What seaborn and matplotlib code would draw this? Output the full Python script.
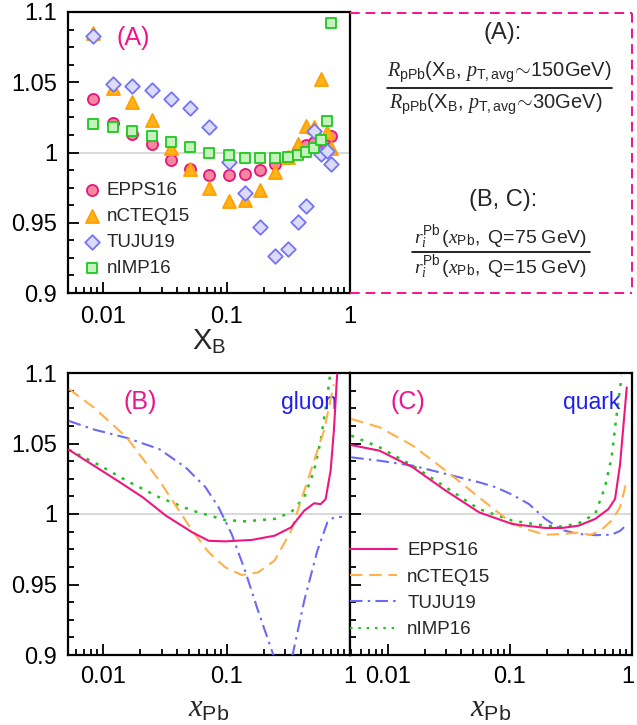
import numpy as np
import pandas as pd
import matplotlib
matplotlib.use("Agg")
import matplotlib.pyplot as plt
import matplotlib.transforms as mtransforms
from matplotlib.lines import Line2D
from matplotlib.ticker import MultipleLocator, LogLocator, NullFormatter, FixedLocator, FixedFormatter
import seaborn as sns

sns.set_style("ticks")
plt.rcParams['font.family'] = ['Liberation Sans', 'DejaVu Sans']
plt.rcParams['mathtext.fontset'] = 'custom'
plt.rcParams['mathtext.rm'] = 'Liberation Sans'
plt.rcParams['mathtext.it'] = 'Liberation Serif:italic'
plt.rcParams['mathtext.bf'] = 'Liberation Sans:bold'

# ---------------- Panel A data (R ratio vs X_B) ----------------
xB = [0.00836, 0.0120, 0.0173, 0.0248, 0.0355, 0.0509, 0.0727, 0.104, 0.140,
      0.186, 0.248, 0.313, 0.382, 0.439, 0.513, 0.578, 0.646, 0.705]
A_EPPS16 = [1.038, 1.021, 1.0135, 1.0057, 0.995, 0.988, 0.984, 0.9838, 0.985,
            0.9876, 0.992, 0.996, 1.002, 1.005, 1.0076, 1.009, 1.010, 1.0114]
A_nCTEQ15 = [1.085, 1.046, 1.0356, 1.023, 1.003, 0.9886, 0.9744, 0.9653, 0.966,
             0.9734, 0.9858, 0.997, 1.0062, 1.019, 1.0185, 1.052, 1.0147, 1.003]
A_TUJU19 = [1.0826, 1.0484, 1.047, 1.0443, 1.038, 1.0318, 1.018, 0.993, 0.9715,
            0.947, 0.926, 0.931, 0.9506, 0.962, 1.0154, 0.9988, 1.001, 0.992]
A_nIMP16 = [1.0206, 1.0185, 1.0154, 1.0118, 1.0076, 1.004, 1.000, 0.9979, 0.9964,
            0.9964, 0.9964, 0.997, 0.9982, 1.0002, 1.003, 1.009, 1.0225, 1.0925]

# ---------------- Panel B data (gluon) ----------------
B_EPPS16_x = [0.00528, 0.0137, 0.021, 0.0323, 0.0528, 0.0718, 0.0976, 0.16, 0.245,
              0.333, 0.426, 0.512, 0.579, 0.635, 0.697, 0.74, 0.787]
B_EPPS16_y = [1.0456, 1.0225, 1.0118, 0.9988, 0.987, 0.981, 0.9806, 0.9816, 0.9846,
              0.9905, 1.0024, 1.0076, 1.007, 1.0106, 1.031, 1.059, 1.099]
B_nCTEQ15_x = [0.00528, 0.00838, 0.0155, 0.0286, 0.0528, 0.0718, 0.0976, 0.133, 0.180,
               0.245, 0.333, 0.453, 0.615, 0.74]
B_nCTEQ15_y = [1.0887, 1.0757, 1.0544, 1.0236, 0.9882, 0.9728, 0.9622, 0.9567, 0.9586,
               0.967, 0.988, 1.0236, 1.059, 1.092]
B_TUJU19_x = [0.00528, 0.00838, 0.0155, 0.0286, 0.0467, 0.0675, 0.0863, 0.110, 0.141,
              0.180, 0.238, 0.28, 0.344, 0.426, 0.544, 0.655, 0.74, 0.863]
B_TUJU19_y = [1.066, 1.060, 1.054, 1.046, 1.033, 1.019, 1.0047, 0.9858, 0.960,
              0.9314, 0.9007, 0.885, 0.9007, 0.9385, 0.974, 0.994, 0.9976, 0.998]
B_nIMP16_x = [0.00528, 0.00947, 0.0155, 0.0286, 0.0528, 0.0976, 0.141, 0.245, 0.333,
              0.426, 0.512, 0.579, 0.655, 0.69]
B_nIMP16_y = [1.0456, 1.0343, 1.0236, 1.0118, 1.0024, 0.9957, 0.9948, 0.9965, 1.0012,
              1.0118, 1.031, 1.052, 1.083, 1.099]

# ---------------- Panel C data (quark) ----------------
C_x = [0.00502, 0.00855, 0.016, 0.0299, 0.0559, 0.1045, 0.195, 0.267, 0.365, 0.499,
       0.641, 0.726, 0.798, 0.906]
C_EPPS16_y = [1.0489, 1.0449, 1.0331, 1.0165, 1.0012, 0.9929, 0.9901, 0.9901, 0.9917,
              0.9965, 1.0035, 1.0106, 1.035, 1.0898]
C_nCTEQ15_x = [0.00502, 0.00855, 0.016, 0.0299, 0.0559, 0.0765, 0.1045, 0.143, 0.195,
               0.267, 0.365, 0.455, 0.56, 0.68, 0.798, 0.906]
C_nCTEQ15_y = [1.0674, 1.0615, 1.0485, 1.0307, 1.0118, 1.0024, 0.9934, 0.9887, 0.9853,
               0.9858, 0.9868, 0.985, 0.9887, 0.9953, 1.0047, 1.0236]
C_TUJU19_x = [0.00502, 0.00855, 0.016, 0.0299, 0.0559, 0.0765, 0.1045, 0.143, 0.195,
              0.267, 0.365, 0.499, 0.68, 0.798, 0.906]
C_TUJU19_y = [1.0402, 1.0378, 1.0343, 1.0284, 1.0225, 1.019, 1.0137, 1.0071, 0.9965,
              0.9887, 0.9858, 0.985, 0.9853, 0.988, 0.9924]
C_nIMP16_x = [0.00502, 0.00855, 0.016, 0.0299, 0.0559, 0.1045, 0.195, 0.267, 0.365,
              0.499, 0.60, 0.68, 0.75, 0.823]
C_nIMP16_y = [1.0556, 1.0473, 1.0343, 1.0189, 1.0035, 0.9953, 0.9917, 0.991, 0.9934,
              1.0, 1.019, 1.040, 1.071, 1.098]

labels = ['EPPS16', 'nCTEQ15', 'TUJU19', 'nIMP16']
yticks = [0.9, 0.95, 1.0, 1.05, 1.1]
ytick_labels = ['0.9', '0.95', '1', '1.05', '1.1']
xticks = [0.01, 0.1, 1.0]
xtick_labels = ['0.01', '0.1', '1']

MAG = '#F0148C'
W, H = 637, 725

fig = plt.figure(figsize=(W / 100, H / 100), dpi=100)

def rect(l, t, r, b):
    return [l / W, 1 - b / H, (r - l) / W, (b - t) / H]

axA = fig.add_axes(rect(68, 12, 350, 293))
axB = fig.add_axes(rect(68, 373, 350, 655))
axC = fig.add_axes(rect(350, 373, 632, 655))

def style_axis(ax, xmin, show_y=True):
    ax.set_xscale('log')
    ax.set_xlim(xmin, 1.0)
    ax.set_ylim(0.9, 1.1)
    ax.axhline(1.0, color='#D3D3D3', lw=1.2, zorder=0)
    ax.set_yticks(yticks)
    ax.set_yticklabels(ytick_labels if show_y else [])
    ax.yaxis.set_minor_locator(MultipleLocator(0.0125))
    ax.xaxis.set_major_locator(FixedLocator(xticks))
    ax.xaxis.set_major_formatter(FixedFormatter(xtick_labels))
    ax.xaxis.set_minor_locator(LogLocator(base=10, subs=np.arange(2, 10)))
    ax.xaxis.set_minor_formatter(NullFormatter())
    ax.tick_params(which='both', direction='in', top=False, right=False,
                   labelsize=17, width=1.3, color='black', labelcolor='black')
    ax.tick_params(which='major', length=8, pad=8)
    ax.tick_params(which='minor', length=4)
    for s in ax.spines.values():
        s.set_linewidth(1.6)
        s.set_color('black')
    ax.set_xlabel('')
    ax.set_ylabel('')

style_axis(axA, 0.0052)
style_axis(axB, 0.0052)
style_axis(axC, 0.0049, show_y=False)

# ---------------- Panel A scatter ----------------
mk = [('o', 64, '#F5889E', '#E8147D'),
      ('^', 88, '#FFB31A', '#FFA000'),
      ('D', 55, '#DCDCFA', '#7474F5'),
      ('s', 48, '#C6F2BE', '#1EC81E')]
seriesA = [A_EPPS16, A_nCTEQ15, A_TUJU19, A_nIMP16]
for i, (lab, vals) in enumerate(zip(labels, seriesA)):
    m, s, fc, ec = mk[i]
    sns.scatterplot(x=xB, y=vals, ax=axA, marker=m, s=s, color=fc,
                    edgecolor=ec, linewidth=1.3, label=lab, zorder=3 + i)
legA = axA.legend(loc='upper left', bbox_to_anchor=(0.035, 0.395), frameon=False,
                  fontsize=13.5, handletextpad=0.05, labelspacing=0.47,
                  borderpad=0, borderaxespad=0, handlelength=1.5)
axA.text((133 - 68) / 282, 1 - (38 - 12) / 281, '(A)', transform=axA.transAxes,
         color=MAG, fontsize=18, ha='center', va='center')
axA.set_xlabel(r'$\mathrm{X}_{\mathrm{B}}$', fontsize=21, labelpad=0)
axA.tick_params(axis='x', which='major', pad=9)

# ---------------- Panel B / C lines ----------------
cols = ['#F0167F', '#FFB04A', '#6A6AF5', '#22C022']
lss = ['-', '--', '-.', ':']
dash_patterns = [None, (6, 3.2), (6, 2.5, 1.2, 2.5), (1.2, 2.8)]
curvesB = [(B_EPPS16_x, B_EPPS16_y), (B_nCTEQ15_x, B_nCTEQ15_y),
           (B_TUJU19_x, B_TUJU19_y), (B_nIMP16_x, B_nIMP16_y)]
curvesC = [(C_x, C_EPPS16_y), (C_nCTEQ15_x, C_nCTEQ15_y),
           (C_TUJU19_x, C_TUJU19_y), (C_nIMP16_x, C_nIMP16_y)]

for ax, curves in ((axB, curvesB), (axC, curvesC)):
    for i, (lab, (xx, yy)) in enumerate(zip(labels, curves)):
        sns.lineplot(x=xx, y=yy, ax=ax, color=cols[i], linestyle=lss[i],
                     lw=1.5 if i != 3 else 1.8, label=lab, estimator=None,
                     sort=False, zorder=3 + (3 - i))
        ln = ax.lines[-1]
        if dash_patterns[i] is not None:
            ln.set_dashes(dash_patterns[i])
    ax.set_xlabel(r'$x_{\mathrm{Pb}}$', fontsize=22, labelpad=4)
    ax.set_ylabel('')

# nudge the right-most "1" label of panel C so it stays inside the figure
lastC = axC.get_xticklabels()[-1]
lastC.set_transform(lastC.get_transform() +
                    mtransforms.ScaledTranslation(-4 / 100, 0, fig.dpi_scale_trans))

axB.get_legend().remove()
handles = [Line2D([0], [0], color=cols[i], lw=1.5, linestyle=lss[i]) for i in range(4)]
for i, h in enumerate(handles):
    if dash_patterns[i] is not None:
        h.set_dashes(dash_patterns[i])
axC.get_legend().remove()
axC.legend(handles, labels, loc='upper left', bbox_to_anchor=(0.0, 0.40),
           frameon=False, fontsize=13.5, handlelength=2.5, handletextpad=0.55,
           labelspacing=0.49, borderpad=0, borderaxespad=0)

axB.text((140 - 68) / 282, 1 - (402 - 373) / 282, '(B)', transform=axB.transAxes,
         color=MAG, fontsize=18, ha='center', va='center')
axB.text((337 - 68) / 282, 1 - (402 - 373) / 282, 'gluon', transform=axB.transAxes,
         color='#1E1EF0', fontsize=16.5, ha='right', va='center')
axC.text((408 - 350) / 282, 1 - (402 - 373) / 282, '(C)', transform=axC.transAxes,
         color=MAG, fontsize=18, ha='center', va='center')
axC.text((620 - 350) / 282, 1 - (402 - 373) / 282, 'quark', transform=axC.transAxes,
         color='#1E1EF0', fontsize=16.5, ha='right', va='center')

# ---------------- dashed description box ----------------
def fx(x):
    return x / W

def fy(y):
    return 1 - y / H

box_kw = dict(color=MAG, lw=1.4, linestyle=(0, (5, 3)), transform=fig.transFigure)
fig.add_artist(Line2D([fx(350), fx(632)], [fy(12.5), fy(12.5)], **box_kw))
fig.add_artist(Line2D([fx(632), fx(632)], [fy(12.5), fy(293)], **box_kw))
fig.add_artist(Line2D([fx(350), fx(632)], [fy(293), fy(293)], **box_kw))

fig.text(fx(503), fy(33), '(A):', fontsize=17, ha='center', va='center')
fig.text(fx(499), fy(72),
         r'$R_{\mathrm{pPb}}(\mathrm{X}_{\mathrm{B}},\,p_{\mathrm{T,avg}}\!\sim\!\mathrm{150GeV})$',
         fontsize=14.5, ha='center', va='center')
fig.add_artist(Line2D([fx(387), fx(612)], [fy(87.5), fy(87.5)], color='black', lw=1.2,
                      transform=fig.transFigure))
fig.text(fx(496), fy(104),
         r'$R_{\mathrm{pPb}}(\mathrm{X}_{\mathrm{B}},\,p_{\mathrm{T,avg}}\!\sim\!\mathrm{30GeV})$',
         fontsize=14.5, ha='center', va='center')

fig.text(fx(503), fy(200), '(B, C):', fontsize=17, ha='center', va='center')
fig.text(fx(501), fy(238),
         r'$r_i^{\mathrm{Pb}}\,(x_{\mathrm{Pb}},\ \mathrm{Q\!=\!75\ GeV})$',
         fontsize=14, ha='center', va='center')
fig.add_artist(Line2D([fx(412), fx(590)], [fy(252.5), fy(252.5)], color='black', lw=1.2,
                      transform=fig.transFigure))
fig.text(fx(501), fy(268),
         r'$r_i^{\mathrm{Pb}}\,(x_{\mathrm{Pb}},\ \mathrm{Q\!=\!15\ GeV})$',
         fontsize=14, ha='center', va='center')

fig.savefig('out.png', dpi=100)
